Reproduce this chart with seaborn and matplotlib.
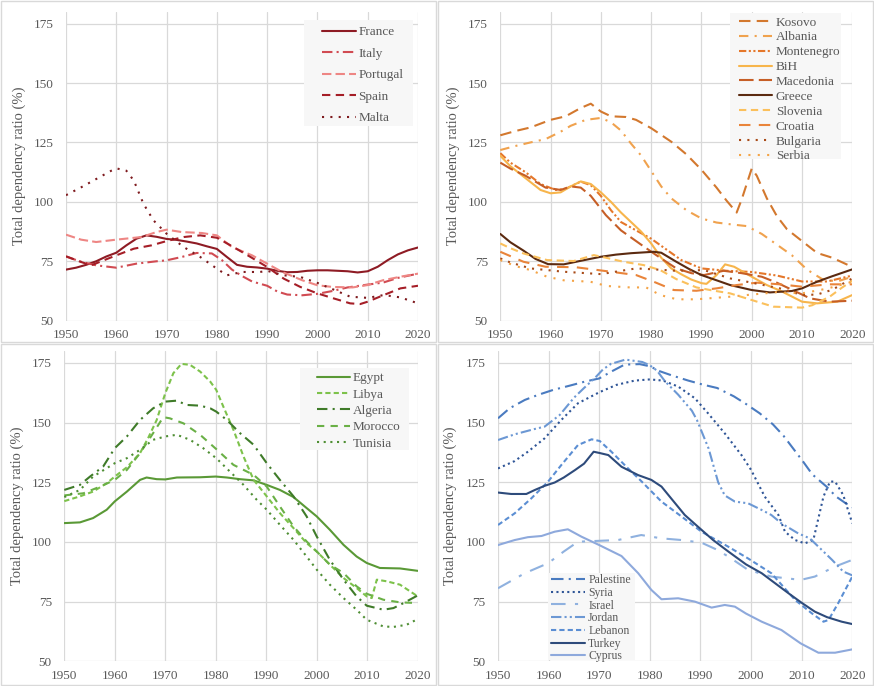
import matplotlib
matplotlib.use("Agg")
import matplotlib.pyplot as plt
import pandas as pd
import seaborn as sns
from matplotlib.patches import Rectangle

sns.set_theme(style="white")
plt.rcParams["font.family"] = ["Liberation Serif", "DejaVu Serif"]

# ---------------- data ----------------
# Panel 1 : Western Mediterranean
france_yr = [1950, 1952, 1954, 1956, 1958, 1960, 1962, 1964, 1966, 1968, 1970, 1972, 1974, 1976, 1978, 1980, 1982, 1984, 1986, 1988, 1990, 1992, 1994, 1996, 1998, 2000, 2002, 2004, 2006, 2008, 2010, 2012, 2014, 2016, 2018, 2020]
france = [71.5, 72.3, 73.5, 75, 77, 78.6, 81.7, 84.5, 85.9, 85.3, 84.4, 84.0, 83.3, 82.5, 81.3, 80.2, 76.8, 73.5, 72.7, 72.4, 71.9, 71.0, 70.4, 70.5, 71.0, 71.2, 71.2, 71.0, 70.8, 70.3, 70.8, 72.7, 75.5, 77.9, 79.6, 80.8]
italy_yr = [1950, 1953, 1956, 1960, 1964, 1968, 1970, 1973, 1976, 1979, 1981, 1983, 1985, 1987, 1990, 1992, 1994, 1997, 2000, 2003, 2006, 2010, 2013, 2016, 2020]
italy = [77, 74.8, 73.3, 72.3, 74, 75, 75.4, 76.8, 78.5, 78.3, 75.5, 71.5, 68.8, 66.5, 64.7, 62.3, 61, 60.7, 61.3, 62.5, 64, 65.2, 66, 68, 69.8]
portugal_yr = [1950, 1953, 1956, 1960, 1965, 1968, 1970, 1973, 1977, 1980, 1983, 1987, 1990, 1993, 1997, 2000, 2003, 2007, 2010, 2013, 2017, 2020]
portugal = [86.2, 84.1, 83.1, 84.1, 85.2, 87.3, 88.3, 87.3, 86.9, 85.9, 81, 77.5, 74, 70.5, 67, 64.9, 64.2, 64, 65, 67, 68.7, 69.8]
spain_yr = [1950, 1953, 1955, 1957.5, 1960, 1963.5, 1967, 1970, 1973.4, 1976.7, 1980, 1983.3, 1986.7, 1990, 1993.3, 1996.6, 2000, 2003.2, 2006.5, 2008.5, 2010, 2013.2, 2016.5, 2020]
spain = [77.1, 74.7, 73.3, 75.4, 77.5, 80.3, 81.7, 83.5, 85.2, 85.9, 84.9, 81, 76.8, 72.6, 67.7, 64.2, 61.5, 59.4, 57.3, 57, 58, 60.8, 63.6, 64.7]
malta_yr = [1950, 1953, 1956, 1959, 1960, 1962, 1963.5, 1965.4, 1967.4, 1970, 1973.4, 1976.7, 1980, 1982, 1985, 1988.6, 1990, 1993.3, 1996.6, 2000, 2003.2, 2006.5, 2010, 2013.2, 2016.5, 2020]
malta = [102.8, 106.1, 109.6, 113.1, 114.1, 113.1, 108.9, 99.2, 92.2, 86.6, 81, 76.8, 71.9, 69.1, 70.5, 70.5, 71, 69.1, 68.4, 65.9, 63.1, 60.1, 59.6, 60.8, 59.8, 57.3]

# Panel 2 : Balkans
kosovo_yr = [1950, 1953, 1956, 1960, 1963, 1966, 1968, 1970, 1972, 1975, 1977, 1980, 1984, 1987, 1990, 1993, 1995, 1997, 1998, 2000, 2001, 2003, 2005, 2007, 2010, 2013, 2016, 2020]
kosovo = [128, 129.8, 131.3, 134.5, 136, 139.5, 141.3, 138, 136, 135.7, 134.5, 131, 125.3, 120, 113.5, 106, 100.5, 95.5, 101, 114, 111, 101.5, 94, 88.5, 83.5, 78.5, 76.5, 72.6]
albania_yr = [1950, 1953, 1956, 1959, 1962, 1964, 1967, 1970, 1972, 1974, 1976, 1978, 1980, 1982, 1984, 1987, 1990, 1993, 1996, 1999, 2002, 2005, 2008, 2011, 2014, 2017, 2020]
albania = [121.8, 123.5, 125, 126.4, 129.5, 132, 134.5, 135.3, 133.5, 130, 124.5, 119.5, 113, 106.5, 101.5, 96.5, 93, 91.3, 90.5, 89.8, 86.5, 82, 77.5, 71.5, 67.5, 66.5, 68.5]
montenegro_yr = [1950, 1952, 1955, 1958, 1961, 1963, 1966, 1968, 1970, 1972, 1974, 1977, 1980, 1983, 1986, 1990, 1995, 2000, 2005, 2010, 2015, 2020]
montenegro = [120.5, 116.5, 112.5, 107.5, 105, 105.5, 108.5, 107, 102.5, 96.5, 91.5, 88, 84.5, 80, 75.5, 72, 71, 70.5, 69, 66.5, 66.5, 69]
bih_yr = [1950, 1952, 1955, 1958, 1960, 1962, 1964, 1966, 1968, 1970, 1972, 1974, 1976, 1978, 1980, 1982, 1984, 1986, 1988, 1990, 1991, 1993, 1994.7, 1996.5, 2000, 2003, 2006, 2010, 2013, 2017, 2020]
bih = [119.4, 115, 110, 105, 103.6, 104, 106.5, 108.6, 107.5, 104, 100, 95.5, 91.5, 87.5, 82.5, 76.5, 72, 69.5, 67.3, 65.8, 65.5, 69.2, 73.7, 72.7, 68.5, 65, 62.3, 58, 57.3, 58, 60.8]
macedonia_yr = [1950, 1952, 1955, 1959, 1962, 1964, 1966, 1968, 1971, 1974, 1978, 1981, 1985, 1988, 1990.5, 1994.4, 1998, 2002, 2005, 2008, 2011.6, 2015.5, 2020]
macedonia = [116.5, 114, 111, 106, 105, 106.5, 106, 102.5, 94.4, 88, 82, 77.6, 72, 70, 69.2, 71, 70, 68.5, 66, 63, 59.4, 58, 58.4]
greece_yr = [1950, 1952, 1954.6, 1957, 1959.5, 1962.6, 1966, 1970, 1973, 1976, 1980.5, 1982, 1985, 1987.5, 1990, 1993, 1995.7, 2000, 2003.6, 2008, 2010, 2013, 2016, 2020]
greece = [86.5, 83, 79.5, 76, 73.8, 73.7, 75.2, 76.9, 77.8, 78.4, 79, 78.6, 74.8, 71.8, 69.2, 67, 65, 62.9, 61.9, 62.5, 63.6, 66.4, 68.7, 71.6]
slovenia_yr = [1950, 1952, 1954.6, 1959.3, 1964.6, 1968.6, 1971, 1974.5, 1978.5, 1981.8, 1985, 1989, 1992, 1995.7, 2000, 2004.3, 2010, 2012, 2015.5, 2018, 2020]
slovenia = [82.5, 80.5, 78.3, 75.5, 75.1, 77.6, 76.5, 74.8, 73.4, 71.3, 67.5, 64, 62.8, 61.5, 58.7, 55.9, 55.5, 56.5, 60.1, 64, 66.8]
croatia_yr = [1950, 1954.6, 1959, 1965, 1972, 1977, 1980.5, 1984.5, 1989, 1993, 1997, 2001, 2005.6, 2010, 2015.5, 2020]
croatia = [79, 74.8, 72.7, 72.5, 70.6, 69.2, 66.4, 62.9, 62.6, 63.6, 65, 66, 65.3, 64.3, 65.3, 65.3]
bulgaria_yr = [1950, 1952, 1956, 1962.6, 1970, 1977, 1980.5, 1985, 1990.5, 1995.7, 2000, 2005.6, 2010, 2013, 2016, 2020]
bulgaria = [76.2, 74.5, 72, 70.6, 69.6, 72, 71.6, 71, 71.3, 67.8, 66, 63.6, 60.8, 61, 63, 67.8]
serbia_yr = [1950, 1953, 1956, 1959.3, 1962.6, 1967.9, 1971.2, 1975.8, 1979, 1981.8, 1985.1, 1989, 1995.7, 2000, 2005, 2010, 2015, 2020]
serbia = [75.5, 73, 71.3, 68.5, 67, 66.4, 64.6, 64, 64, 60.8, 59, 59, 60.1, 61, 62, 61.5, 63.5, 66.4]

# Panel 3 : North Africa
egypt_yr = [1950, 1953.1, 1955.7, 1958.4, 1960, 1962.4, 1965, 1966.3, 1968.3, 1970, 1972.3, 1976.9, 1980, 1982.2, 1984.8, 1987.5, 1990.1, 1992.7, 1995.4, 1998, 2000, 2002.6, 2005.3, 2007.9, 2009.9, 2012.5, 2016.5, 2020]
egypt = [107.9, 108.2, 110, 113.5, 117, 121.1, 126, 127, 126.3, 126.2, 127, 127.1, 127.4, 127, 126.3, 125.8, 123.9, 121.8, 118.8, 114.2, 110.7, 105.1, 98.8, 93.9, 91.2, 89.1, 88.9, 87.9]
libya_yr = [1950, 1953.1, 1955.7, 1958.4, 1960, 1962.4, 1965, 1966.6, 1968.3, 1970, 1971.6, 1973.2, 1974.9, 1976.9, 1978.9, 1980.1, 1981.5, 1983.5, 1985.5, 1987.5, 1990.1, 1992.7, 1995.4, 1998, 2000, 2002.6, 2005.3, 2007.9, 2009.9, 2010.9, 2011.9, 2013.9, 2016.5, 2020]
libya = [117.1, 119.1, 121.1, 124.6, 127.4, 131.3, 137.2, 143.5, 151.1, 162.3, 170.7, 174.6, 174.2, 171.4, 167.2, 163.7, 156.7, 147, 135.8, 126, 119.1, 112.1, 105.8, 99.5, 96, 90.5, 84.9, 80.7, 77.2, 76.5, 84.2, 83.5, 82.1, 77.2]
algeria_yr = [1950, 1953.1, 1955.1, 1957.7, 1960, 1962.4, 1965, 1967.6, 1970, 1972.3, 1974.2, 1976.9, 1978.9, 1980.1, 1982.2, 1984.8, 1987.5, 1990.1, 1992.7, 1995.4, 1998, 2000, 2002.6, 2005.3, 2007.9, 2009.9, 2013.2, 2015.2, 2017.2, 2020]
algeria = [121.8, 123.9, 127.4, 131.6, 139.3, 144.2, 151.1, 156, 158.8, 159.2, 157.4, 157.1, 156, 154.6, 151.1, 145.6, 140.7, 133, 126, 119.1, 110.7, 102.3, 92.5, 84.2, 77.2, 73.3, 71.6, 72.3, 74.4, 77.6]
morocco_yr = [1950, 1953.8, 1957.1, 1960, 1962.4, 1965, 1967.6, 1969.6, 1970.9, 1973.6, 1976.9, 1980.1, 1983.5, 1987.5, 1990.1, 1992.7, 1995.4, 1998, 2000, 2002.6, 2005.3, 2007.9, 2009.9, 2013.2, 2016.5, 2020]
morocco = [119.5, 120.4, 123.2, 126, 130.2, 137.2, 145.6, 152.3, 151.8, 149.7, 144.9, 138.9, 132.3, 128.1, 123.2, 114.9, 106.5, 100.2, 96, 90.5, 87, 81.4, 78.3, 75.8, 74.7, 74.4]
tunisia_yr = [1950, 1953.1, 1955.7, 1958.4, 1960, 1962.4, 1965, 1967.6, 1970, 1972.3, 1974.9, 1977.5, 1980.1, 1982.8, 1985.5, 1988.1, 1990.1, 1992.7, 1995.4, 1998, 2000, 2002.6, 2005.3, 2007.9, 2009.9, 2013.2, 2015.2, 2017.8, 2020]
tunisia = [118.8, 121.8, 127.4, 130.9, 133, 135.1, 138.6, 142.8, 144.2, 144.9, 142.8, 139.3, 135.1, 129.5, 123.9, 117.7, 113.5, 107.2, 100.9, 93.9, 88.4, 82.1, 76.5, 71.6, 67.4, 64.6, 64.4, 65.3, 67.7]

# Panel 4 : Middle East
palestine_yr = [1950, 1952.3, 1955.3, 1957.9, 1960.9, 1964.2, 1967.2, 1970, 1972.5, 1975, 1978, 1980, 1982, 1984.3, 1987.6, 1990.5, 1993.3, 1996.6, 1999, 2001.7, 2004.3, 2006.4, 2008.3, 2010.3, 2012.1, 2014.9, 2016.8, 2018.5, 2020]
palestine = [151.8, 156, 159.5, 161.6, 163.7, 165.5, 167.2, 168.5, 171.5, 174.3, 174.5, 173.6, 171.5, 169.8, 167.6, 165.9, 164.5, 161, 157.8, 153.9, 149.3, 144.5, 139.2, 133.6, 128.3, 123.2, 119, 116.5, 114.5]
syria_yr = [1950, 1953.3, 1955.9, 1959.2, 1962.5, 1965.8, 1970, 1973.4, 1977, 1980, 1982.6, 1985.6, 1988.9, 1991.5, 1994.8, 1998.1, 2000, 2002.7, 2005.4, 2006.7, 2008.7, 2010.6, 2012.3, 2014.3, 2015.6, 2016.6, 2018.2, 2020]
syria = [130.8, 133.9, 137.8, 143.4, 151.1, 158.1, 162.7, 165.8, 167.6, 168.1, 167.6, 165.1, 160.2, 153.9, 145.5, 136.4, 130.2, 119, 111.3, 104.3, 100.8, 99.4, 100.8, 119, 125.3, 125.3, 119.7, 107.8]
israel_yr = [1950, 1955.3, 1959.9, 1963, 1965.8, 1969.1, 1973.7, 1978.3, 1982.3, 1986.3, 1990.2, 1993, 1995.5, 1999.4, 2004, 2009.8, 2012.6, 2016.6, 2020]
israel = [80.6, 86.9, 91.1, 96, 100.1, 100.4, 100.8, 102.9, 101.5, 100.8, 99.7, 97, 93.9, 88.3, 85.5, 84.1, 85.5, 89.7, 92.5]
jordan_yr = [1950, 1953.3, 1957.2, 1959.2, 1962.2, 1965, 1967, 1969.1, 1970.7, 1972.3, 1975.2, 1978.5, 1980, 1981.4, 1983, 1985.6, 1988.3, 1989.3, 1991.6, 1993.5, 1994.8, 1996.8, 1999.4, 2002.1, 2004, 2006, 2009.3, 2011.6, 2014, 2016, 2018.2, 2020]
jordan = [142.7, 145.1, 147.3, 148.3, 153.2, 160.4, 164.5, 168.6, 172.2, 174.6, 176.4, 175.4, 174, 171.8, 167.3, 161.7, 155, 151.1, 139.2, 125, 119.5, 116.9, 116.2, 113.4, 111.3, 107.8, 103.6, 101.5, 96.6, 92.5, 87.6, 86]
lebanon_yr = [1950, 1953.3, 1956.6, 1959.9, 1962.5, 1965.8, 1968.5, 1970.1, 1972.4, 1975.7, 1978.3, 1982.3, 1986.3, 1990.2, 1995.5, 1999.4, 2004, 2008.7, 2012, 2014.3, 2015.3, 2017.2, 2020]
lebanon = [107.1, 112, 118.3, 125.3, 132.2, 140.6, 143, 142.3, 137.8, 130.8, 125.5, 116.9, 110.6, 104.3, 98, 93.1, 86.9, 75.7, 70.1, 66.6, 67.3, 74.3, 85.5]
turkey_yr = [1950, 1952.6, 1955.6, 1957.3, 1959.2, 1961.2, 1963, 1965.2, 1967, 1968.9, 1970, 1971.8, 1974.4, 1977.7, 1980.3, 1982.3, 1984.5, 1986.9, 1989.5, 1992.5, 1995.5, 1999, 2002.1, 2005, 2007.4, 2010, 2012.6, 2015, 2017.9, 2020]
turkey = [120.7, 120.1, 120.1, 121.8, 123.5, 124.9, 127, 130.1, 132.8, 137.8, 137.3, 136.4, 131.5, 128, 126, 123.2, 117.5, 111.3, 106.4, 100.8, 96, 90.6, 86.9, 82.3, 78.5, 74.5, 70.8, 68.5, 66.6, 65.6]
cyprus_yr = [1950, 1953.3, 1955.9, 1958.6, 1961.2, 1963.8, 1966.5, 1970, 1974.4, 1977.7, 1980.3, 1982.3, 1985.6, 1988.9, 1992.2, 1994.8, 1996.8, 1999, 2002.1, 2006, 2009.8, 2013.3, 2016.6, 2020]
cyprus = [98.7, 100.8, 102, 102.5, 104.3, 105.3, 102.2, 98.7, 94.1, 86.9, 79.9, 76, 76.4, 75, 72.5, 73.6, 72.9, 70, 66.6, 63.1, 57.5, 53.6, 53.6, 55]

year_ticks = [1950, 1960, 1970, 1980, 1990, 2000, 2010, 2020]
ratio_ticks = [50, 75, 100, 125, 150, 175]
ylabel_text = "Total dependency ratio (%)"

# ---------------- styles ----------------
panels = [
    dict(
        series=[("France", france_yr, france, "#8E1B24", ""),
                ("Italy", italy_yr, italy, "#D14B52", (5, 2, 1, 2)),
                ("Portugal", portugal_yr, portugal, "#EE8684", (4.5, 2)),
                ("Spain", spain_yr, spain, "#A51E27", (4, 2.6)),
                ("Malta", malta_yr, malta, "#7E1A1E", (1, 3))],
        box=(66, 11.7, 418, 320.7),
        legbg=(0.676, 0.630, 0.986, 0.973),
        leg=dict(loc="upper left", bbox_to_anchor=(0.727, 0.953), fontsize=9.5,
                 labelspacing=0.7, handlelength=2.6, handletextpad=0.15)),
    dict(
        series=[("Kosovo", kosovo_yr, kosovo, "#D3782E", (5.5, 3)),
                ("Albania", albania_yr, albania, "#F0A24E", (4.5, 3, 1, 3)),
                ("Montenegro", montenegro_yr, montenegro, "#E5772A", (3.5, 1.2, 1, 1.2, 1, 1.2)),
                ("BiH", bih_yr, bih, "#F7B54C", ""),
                ("Macedonia", macedonia_yr, macedonia, "#C65E26", (7, 2.5)),
                ("Greece", greece_yr, greece, "#5B2A10", ""),
                ("Slovenia", slovenia_yr, slovenia, "#FBC05C", (3.5, 2.2)),
                ("Croatia", croatia_yr, croatia, "#E9843A", (5.5, 4)),
                ("Bulgaria", bulgaria_yr, bulgaria, "#A84A17", (1, 3)),
                ("Serbia", serbia_yr, serbia, "#F4A447", (1, 3.5))],
        box=(500.3, 11.7, 852.3, 320.7),
        legbg=(0.6526, 0.523, 0.968, 0.996),
        leg=dict(loc="upper left", bbox_to_anchor=(0.678, 0.985), fontsize=9.5,
                 labelspacing=0.2, handlelength=2.5, handletextpad=0.3)),
    dict(
        series=[("Egypt", egypt_yr, egypt, "#5A9936", ""),
                ("Libya", libya_yr, libya, "#7DC24B", (2.5, 1.5)),
                ("Algeria", algeria_yr, algeria, "#3F7B29", (5, 2.5, 1, 2.5)),
                ("Morocco", morocco_yr, morocco, "#6AB046", (3.5, 3)),
                ("Tunisia", tunisia_yr, tunisia, "#4E8E33", (1, 2.2))],
        box=(64.3, 351, 417.7, 661.3),
        legbg=(0.667, 0.681, 0.975, 0.945),
        leg=dict(loc="upper left", bbox_to_anchor=(0.715, 0.9316), fontsize=9.5,
                 labelspacing=0.31, handlelength=2.5, handletextpad=0.23)),
    dict(
        series=[("Palestine", palestine_yr, palestine, "#4A7BC0", (6, 2.5, 1, 2.5)),
                ("Syria", syria_yr, syria, "#2F5597", (1, 1.6)),
                ("Israel", israel_yr, israel, "#8FB1DF", (7, 4.5, 1.5, 4.5)),
                ("Jordan", jordan_yr, jordan, "#6C98D4", (5, 1.5, 1, 1.5, 1, 1.5)),
                ("Lebanon", lebanon_yr, lebanon, "#5B8ED3", (2.5, 1.5)),
                ("Turkey", turkey_yr, turkey, "#2E4B7B", ""),
                ("Cyprus", cyprus_yr, cyprus, "#8EA9DC", "")],
        box=(498, 351, 852.3, 661.3),
        legbg=(0.140, 0.005, 0.3856, 0.2846),
        leg=dict(loc="upper left", bbox_to_anchor=(0.1496, 0.281), fontsize=8.5,
                 labelspacing=0.06, handlelength=2.9, handletextpad=0.25)),
]

W, H = 874, 686
fig = plt.figure(figsize=(W / 100, H / 100), dpi=100)
fig.patch.set_facecolor("white")

# chart-area borders
for (l, t, r, b) in [(1, 1, 436, 342), (438, 1, 873, 342), (1, 344, 436, 685), (438, 344, 873, 685)]:
    fig.add_artist(Rectangle((l / W, 1 - b / H), (r - l) / W, (b - t) / H,
                             transform=fig.transFigure, fill=False,
                             edgecolor="#D9D9D9", linewidth=1.0))

grid_c = "#D9D9D9"
text_c = "#595959"

for p in panels:
    l, t, r, b = p["box"]
    ax = fig.add_axes([l / W, 1 - b / H, (r - l) / W, (b - t) / H])
    frames = []
    for name, yrs, vals, col, dsh in p["series"]:
        frames.append(pd.DataFrame({"year": yrs, "ratio": vals, "country": name}))
    df = pd.concat(frames, ignore_index=True)
    names = [s[0] for s in p["series"]]
    pal = {s[0]: s[3] for s in p["series"]}
    dashes = {s[0]: s[4] for s in p["series"]}
    sns.lineplot(data=df, x="year", y="ratio", hue="country", style="country",
                 hue_order=names, style_order=names, palette=pal, dashes=dashes,
                 estimator=None, sort=True, linewidth=1.5, ax=ax, legend="full")

    ax.set_xlim(1950, 2020)
    ax.set_ylim(50, 180)
    ax.set_xticks(year_ticks)
    ax.set_yticks(ratio_ticks)
    ax.grid(True, color=grid_c, linewidth=0.9)
    ax.set_axisbelow(True)
    for s in ax.spines.values():
        s.set_visible(False)
    ax.tick_params(axis="both", length=0, labelsize=9.5, labelcolor=text_c)
    ax.tick_params(axis="y", pad=9)
    ax.tick_params(axis="x", pad=6)
    ax.set_xlabel("")
    ax.set_ylabel(ylabel_text, fontsize=10.5, color=text_c)
    ax.yaxis.set_label_coords(-0.115, 0.5)

    # legend background box (like the spreadsheet legend area)
    x0, y0, x1, y1 = p["legbg"]
    ax.add_patch(Rectangle((x0, y0), x1 - x0, y1 - y0, transform=ax.transAxes,
                           facecolor="#F7F7F7", edgecolor="none", zorder=5))

    handles, labels = ax.get_legend_handles_labels()
    hl = [(h, lb) for h, lb in zip(handles, labels) if lb in names]
    leg = ax.legend([h for h, _ in hl], [lb for _, lb in hl], frameon=False,
                    borderaxespad=0.0, borderpad=0.0,
                    labelcolor=text_c, **p["leg"])
    leg.set_zorder(6)

fig.savefig("out.png", dpi=100, facecolor="white")
